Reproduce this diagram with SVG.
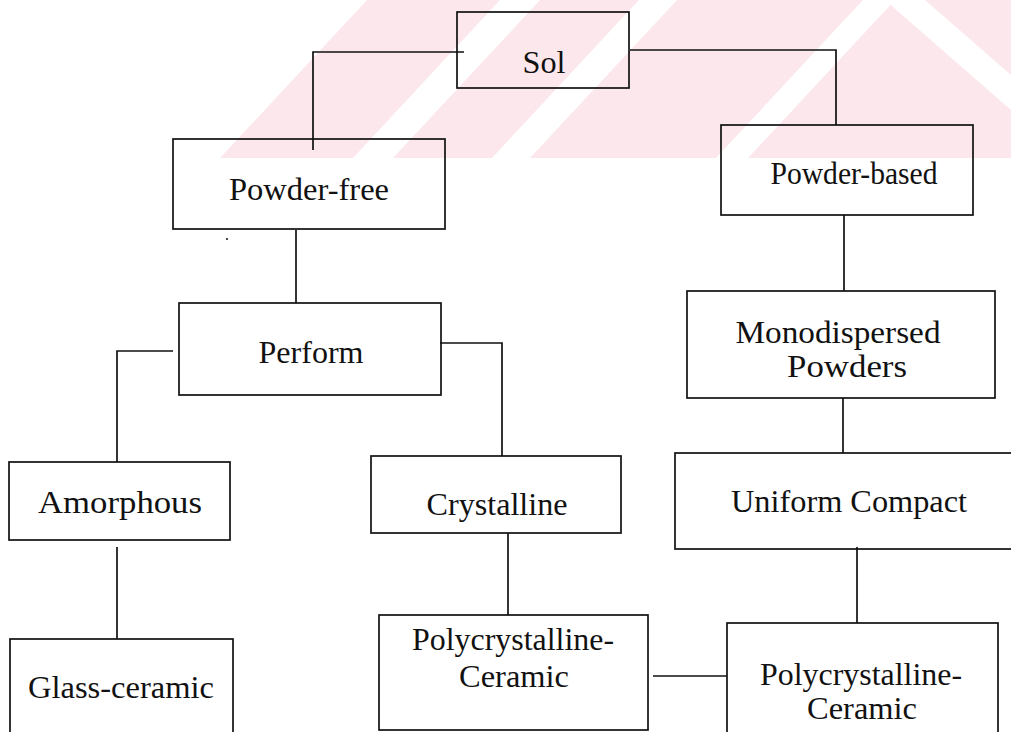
<svg xmlns="http://www.w3.org/2000/svg" width="1011" height="732" viewBox="0 0 1011 732">
  <style>
    .box { fill: none; stroke: #111; stroke-width: 1.7; }
    .lbl { font-family: "Liberation Serif", "Times New Roman", serif; font-size: 32px; fill: #111; text-anchor: middle; }
    .wire { fill: none; stroke: #111; stroke-width: 1.7; }
    .wm { fill: #fce8ec; }
    .wmgap { fill: #ffffff; }
  </style>
  <rect x="0" y="0" width="1011" height="732" fill="#ffffff"/>
  <g id="watermark">
    <polygon class="wm" points="220,158 367,0 1011,0 1011,158"/>
    <polygon class="wmgap" points="353,158 393,158 540,0 500,0"/>
    <polygon class="wmgap" points="492,158 530,158 677,0 639,0"/>
    <polygon class="wmgap" points="716,158 748,158 895,0 863,0"/>
    <polygon class="wmgap" points="885,0 925,0 1011,75 1011,110"/>
  </g>
  <g id="connectors">
    <path class="wire" d="M464,52 H313 V150"/>
    <path class="wire" d="M630,50 H836 V125"/>
    <path class="wire" d="M296,230 V303"/>
    <path class="wire" d="M173,351 H117 V462"/>
    <path class="wire" d="M440,343 H502 V456"/>
    <path class="wire" d="M117,547 V639"/>
    <path class="wire" d="M508,533 V615"/>
    <path class="wire" d="M844,215 V291"/>
    <path class="wire" d="M843,398 V453"/>
    <path class="wire" d="M857,547 V623"/>
    <path class="wire" d="M653,676 H727"/>
  </g>
  <g id="n-sol">
    <rect class="box" x="457" y="12" width="172" height="76"/>
    <text class="lbl" x="544" y="73" textLength="43" lengthAdjust="spacingAndGlyphs">Sol</text>
  </g>
  <g id="n-powder-free">
    <rect class="box" x="173" y="139" width="272" height="90"/>
    <text class="lbl" x="309" y="200" textLength="160" lengthAdjust="spacingAndGlyphs">Powder-free</text>
  </g>
  <g id="n-powder-based">
    <rect class="box" x="721" y="125" width="252" height="90"/>
    <text class="lbl" x="854" y="184" textLength="167" lengthAdjust="spacingAndGlyphs">Powder-based</text>
  </g>
  <g id="n-perform">
    <rect class="box" x="179" y="303" width="262" height="92"/>
    <text class="lbl" x="311" y="363" textLength="105" lengthAdjust="spacingAndGlyphs">Perform</text>
  </g>
  <g id="n-monodispersed">
    <rect class="box" x="687" y="291" width="308" height="107"/>
    <text class="lbl" x="838" y="343" textLength="205" lengthAdjust="spacingAndGlyphs">Monodispersed</text>
    <text class="lbl" x="847" y="377" textLength="120" lengthAdjust="spacingAndGlyphs">Powders</text>
  </g>
  <g id="n-amorphous">
    <rect class="box" x="9" y="462" width="221" height="78"/>
    <text class="lbl" x="120" y="513" textLength="164" lengthAdjust="spacingAndGlyphs">Amorphous</text>
  </g>
  <g id="n-crystalline">
    <rect class="box" x="371" y="456" width="250" height="77"/>
    <text class="lbl" x="497" y="515" textLength="141" lengthAdjust="spacingAndGlyphs">Crystalline</text>
  </g>
  <g id="n-uniform-compact">
    <rect class="box" x="675" y="453" width="345" height="96"/>
    <text class="lbl" x="849" y="512" textLength="236" lengthAdjust="spacingAndGlyphs">Uniform Compact</text>
  </g>
  <g id="n-glass-ceramic">
    <rect class="box" x="10" y="639" width="223" height="110"/>
    <text class="lbl" x="121" y="698" textLength="186" lengthAdjust="spacingAndGlyphs">Glass-ceramic</text>
  </g>
  <g id="n-polycrystalline-1">
    <rect class="box" x="379" y="615" width="269" height="115"/>
    <text class="lbl" x="513" y="650" textLength="202" lengthAdjust="spacingAndGlyphs">Polycrystalline-</text>
    <text class="lbl" x="514" y="687" textLength="110" lengthAdjust="spacingAndGlyphs">Ceramic</text>
  </g>
  <g id="n-polycrystalline-2">
    <rect class="box" x="727" y="623" width="271" height="130"/>
    <text class="lbl" x="861" y="685" textLength="202" lengthAdjust="spacingAndGlyphs">Polycrystalline-</text>
    <text class="lbl" x="862" y="719" textLength="110" lengthAdjust="spacingAndGlyphs">Ceramic</text>
  </g>
  <circle cx="227" cy="239" r="1" fill="#111"/>
</svg>
